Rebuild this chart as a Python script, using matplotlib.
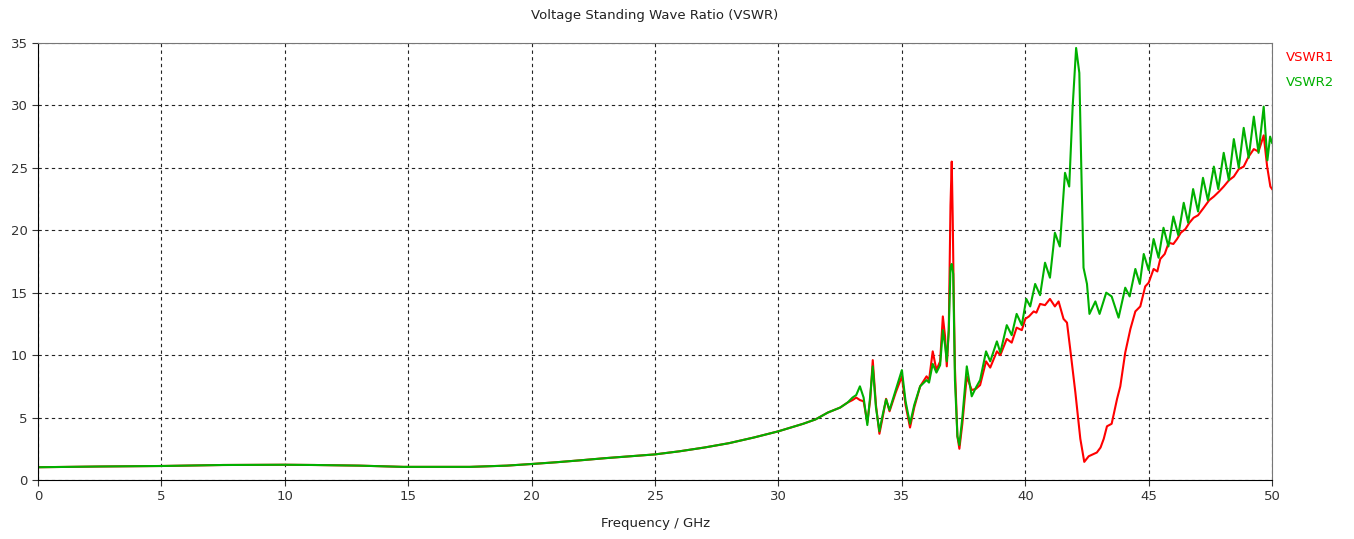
import numpy as np
import matplotlib.pyplot as plt

# common part (both ports identical below ~33 GHz)
freq_low = [0.0, 2.5, 5.0, 7.5, 10.0, 11.2, 13.0, 14.8, 17.5, 19.0, 20.0, 21.0, 22.0,
            23.0, 24.0, 25.0, 26.0, 27.0, 28.0, 29.0, 30.0, 30.5, 31.0, 31.5, 32.0,
            32.5, 32.8]
vswr_low = [1.02, 1.08, 1.12, 1.2, 1.22, 1.2, 1.15, 1.05, 1.05, 1.15, 1.28, 1.42, 1.58,
            1.75, 1.9, 2.05, 2.3, 2.6, 2.95, 3.4, 3.9, 4.2, 4.5, 4.85, 5.4, 5.8, 6.2]

# VSWR1 (red)
freq_1 = [33.0, 33.15, 33.3, 33.45, 33.6, 33.72, 33.82, 33.95, 34.09, 34.22, 34.36, 34.5,
          34.75, 35.0, 35.15, 35.33, 35.5, 35.74, 36.0, 36.1, 36.25, 36.4, 36.55, 36.66,
          36.75, 36.82, 36.9, 36.97, 37.02, 37.06, 37.1, 37.15, 37.25, 37.33, 37.45, 37.63,
          37.83, 38.0, 38.17, 38.41, 38.58, 38.85, 38.99, 39.25, 39.45, 39.65, 39.86, 40.0,
          40.15, 40.34, 40.45, 40.6, 40.8, 41.0, 41.2, 41.35, 41.55, 41.69, 41.82, 42.03,
          42.23, 42.39, 42.57, 42.9, 43.05, 43.18, 43.31, 43.5, 43.72, 43.85, 44.05, 44.26,
          44.46, 44.66, 44.86, 45.0, 45.2, 45.35, 45.47, 45.65, 45.81, 46.0, 46.15, 46.3,
          46.49, 46.65, 46.82, 47.0, 47.23, 47.45, 47.64, 47.85, 48.04, 48.25, 48.45, 48.65,
          48.85, 49.05, 49.26, 49.45, 49.66, 49.8, 49.93, 50.0]
vswr_1 = [6.4, 6.6, 6.4, 6.3, 4.6, 6.5, 9.6, 6.0, 3.7, 5.0, 6.5, 5.5,
          7.0, 8.3, 6.0, 4.2, 5.8, 7.5, 8.3, 8.0, 10.3, 8.8, 9.5, 13.1,
          11.5, 9.1, 12.0, 22.0, 25.5, 21.0, 15.0, 9.0, 3.5, 2.5, 4.5, 8.3,
          7.2, 7.3, 7.6, 9.5, 9.0, 10.3, 10.0, 11.3, 11.0, 12.2, 12.0, 12.9,
          13.1, 13.5, 13.4, 14.1, 14.0, 14.5, 13.9, 14.3, 12.9, 12.6, 10.5, 7.0,
          3.3, 1.45, 1.9, 2.2, 2.6, 3.3, 4.3, 4.5, 6.5, 7.5, 10.2, 12.1,
          13.5, 13.9, 15.5, 15.8, 16.9, 16.7, 17.7, 18.1, 19.0, 18.9, 19.3, 19.8,
          20.1, 20.6, 21.0, 21.2, 21.8, 22.4, 22.7, 23.1, 23.5, 24.0, 24.3, 24.9,
          25.1, 25.9, 26.5, 26.3, 27.6, 25.1, 23.5, 23.3]

# VSWR2 (green)
freq_2 = [33.0, 33.15, 33.3, 33.45, 33.6, 33.72, 33.82, 33.95, 34.09, 34.22, 34.36, 34.5,
          34.75, 35.0, 35.15, 35.33, 35.5, 35.74, 36.0, 36.1, 36.25, 36.4, 36.55, 36.66,
          36.75, 36.82, 36.9, 36.97, 37.02, 37.08, 37.15, 37.25, 37.33, 37.45, 37.63,
          37.83, 38.0, 38.17, 38.41, 38.58, 38.85, 38.99, 39.25, 39.45, 39.65, 39.86, 40.04,
          40.2, 40.4, 40.6, 40.8, 41.0, 41.2, 41.4, 41.61, 41.78, 41.92, 42.06, 42.19,
          42.27, 42.36, 42.5, 42.6, 42.84, 43.01, 43.28, 43.5, 43.78, 44.05, 44.23,
          44.46, 44.64, 44.8, 45.0, 45.2, 45.4, 45.6, 45.8, 46.0, 46.2, 46.42, 46.6,
          46.8, 47.0, 47.2, 47.4, 47.64, 47.82, 48.04, 48.25, 48.45, 48.65, 48.85, 49.05,
          49.26, 49.45, 49.66, 49.81, 49.92, 50.0]
vswr_2 = [6.6, 6.8, 7.5, 6.6, 4.4, 6.8, 9.1, 5.8, 3.9, 5.2, 6.45, 5.6,
          7.2, 8.8, 6.3, 4.5, 6.0, 7.5, 8.0, 7.8, 9.3, 8.6, 9.2, 12.0,
          10.8, 9.5, 12.0, 17.0, 17.3, 16.5, 8.0, 3.5, 2.8, 5.0, 9.1,
          6.7, 7.4, 8.0, 10.3, 9.5, 11.1, 10.2, 12.4, 11.6, 13.3, 12.4, 14.5,
          13.9, 15.7, 14.8, 17.4, 16.2, 19.8, 18.7, 24.6, 23.5, 29.9, 34.6, 32.6,
          25.0, 17.0, 15.7, 13.3, 14.3, 13.3, 15.0, 14.7, 13.0, 15.4, 14.7,
          16.9, 15.7, 18.1, 16.8, 19.3, 17.8, 20.2, 18.7, 21.1, 19.6, 22.2, 20.6,
          23.3, 21.5, 24.2, 22.4, 25.1, 23.3, 26.2, 24.0, 27.3, 25.0, 28.2, 25.8,
          29.1, 26.2, 29.9, 25.6, 27.5, 27.0]

fig = plt.figure(figsize=(13.54, 5.39), dpi=100)
ax = fig.add_axes([0.0281, 0.1095, 0.9114, 0.8108])

ax.plot(freq_low + freq_1, vswr_low + vswr_1, color='#ff0000', lw=1.5)
ax.plot(freq_low + freq_2, vswr_low + vswr_2, color='#00b000', lw=1.5)

ax.set_xlim(0, 50)
ax.set_ylim(0, 35)
ax.set_xticks(np.arange(0, 51, 5))
ax.set_yticks(np.arange(0, 36, 5))
ax.grid(True, color='#222222', linestyle=(0, (3, 3)), linewidth=0.8)
ax.tick_params(labelsize=9.5, colors='#333333', length=4)
for s in ['top', 'right']:
    ax.spines[s].set_color('#777777')
for s in ['left', 'bottom']:
    ax.spines[s].set_color('#000000')

ax.set_xlabel('Frequency / GHz', fontsize=9.5, color='#222222', labelpad=10)
fig.text(0.4835, 0.972, 'Voltage Standing Wave Ratio (VSWR)', ha='center', va='center',
         fontsize=9.5, color='#222222')
fig.text(0.950, 0.893, 'VSWR1', color='#ff0000', fontsize=9.5, va='center')
fig.text(0.950, 0.847, 'VSWR2', color='#00b000', fontsize=9.5, va='center')

plt.savefig('out.png', dpi=100)
